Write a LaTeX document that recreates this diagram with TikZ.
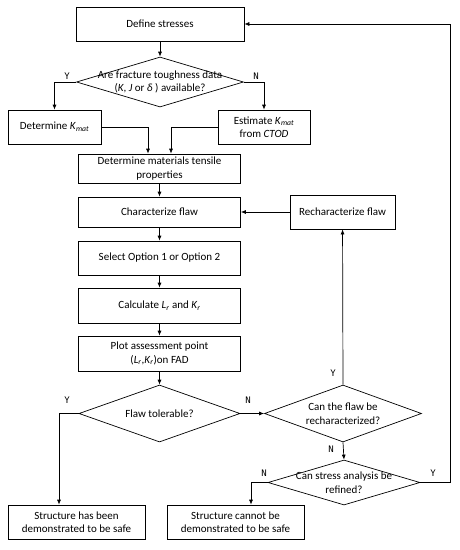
\documentclass[tikz,border=0pt]{standalone}
\usepackage{fontspec}
\setmainfont{Carlito}
\newfontfamily\ynfont{DejaVu Sans Mono}
\usepackage{tikz}
\usetikzlibrary{arrows.meta,calc,positioning,shapes.geometric}
\newcommand{\Kmat}{\textit{K}\textsubscript{\textit{mat}}}
\newcommand{\Lr}{\textit{L}\textsubscript{\textit{r}}}
\newcommand{\Kr}{\textit{K}\textsubscript{\textit{r}}}

\begin{document}
\begin{tikzpicture}[x=1pt,y=-1pt,>={Latex[length=5pt,width=4pt]},line width=0.7pt,
  font=\fontsize{11}{13.5}\selectfont,
  box/.style={draw,rectangle,align=center,inner sep=2pt,minimum height=34pt},
  decision/.style={draw,diamond,inner sep=0pt},
  yn/.style={font=\ynfont\fontsize{9}{10}\selectfont}]
\useasboundingbox (0,0) rectangle (459,550);
% main column
\node[box,minimum width=168pt] (stress) at (160,24) {Define stresses};
\node[decision,minimum width=167pt,minimum height=50pt,
  label={[align=center]center:Are fracture toughness data\\(\textit{K}, \textit{J} or \textit{δ} ) available?}] (toughq) at (160,82) {};
\node[box,minimum width=93pt] (detK) at (54.5,127) {Determine \Kmat};
\node[box,minimum width=92pt] (estK) at (264,127) {Estimate \Kmat\\from \textit{CTOD}};
\node[box,minimum width=162pt,minimum height=29pt] (props) at (159.5,168.5) {Determine materials tensile\\properties};
\node[box,minimum width=162pt,minimum height=30pt] (charflaw) at (159.5,212) {Characterize flaw};
\node[box,minimum width=105pt] (rechar) at (342.5,212) {Recharacterize flaw};
\node[box,minimum width=162pt] (option) at (159.5,258) {Select Option 1 or Option 2};
\node[box,minimum width=162pt,minimum height=35pt] (calc) at (159.5,305.5) {Calculate \Lr{} and \Kr};
\node[box,minimum width=162pt,minimum height=35pt] (plot) at (159.5,353.5) {Plot assessment point\\(\Lr,\Kr)on FAD};
% decisions at the bottom
\node[decision,minimum width=161pt,minimum height=57pt,label={center:Flaw tolerable?}] (tolq) at (159.5,413.5) {};
\node[decision,minimum width=157pt,minimum height=57pt,
  label={[align=center]center:Can the flaw be\\recharacterized?}] (recharq) at (343,413.5) {};
\node[decision,minimum width=152pt,minimum height=45pt,
  label={[align=center]center:Can stress analysis be\\refined?}] (refineq) at (344,482.5) {};
\node[box,minimum width=137pt] (safe) at (76.5,522) {Structure has been\\demonstrated to be safe};
\node[box,minimum width=137pt] (unsafe) at (235.5,522) {Structure cannot be\\demonstrated to be safe};
\coordinate (loop) at (450,482.5);
% connectors
\draw[->] (stress) -- (toughq);
\draw[->] (toughq.west) -| (detK.north);
\draw[->] (toughq.east) -| (estK.north);
\draw[->] (detK.east) -| ([xshift=-11.5pt]props.north);
\draw[->] (estK.west) -| ([xshift=11.5pt]props.north);
\draw[->] (props) -- (charflaw);
\draw[->] (rechar) -- (charflaw);
\draw[->] (charflaw) -- (option);
\draw[->] (option) -- (calc);
\draw[->] (calc) -- (plot);
\draw[->] (plot) -- (tolq.north);
\draw[->] (tolq.west) -| ([xshift=-17.5pt]safe.north);
\draw[->] (tolq.east) -- (recharq.west);
\draw[->] (recharq.north) -- (rechar);
\draw[->] (recharq.south) -- (refineq.north);
\draw[->] (refineq.west) -| ([xshift=15.5pt]unsafe.north);
\draw[->] (refineq.east) -- (loop) |- (stress.east);
% Y/N labels
\node[yn] (y1) at (67,76) {Y};
\node[yn] (n1) at (256,76) {N};
\node[yn] (y2) at (67,400) {Y};
\node[yn] (n2) at (248,400) {N};
\node[yn] (y3) at (333,373) {Y};
\node[yn] (n3) at (331,449) {N};
\node[yn] (n4) at (264,473) {N};
\node[yn] (y4) at (433,473) {Y};
\end{tikzpicture}
\end{document}
